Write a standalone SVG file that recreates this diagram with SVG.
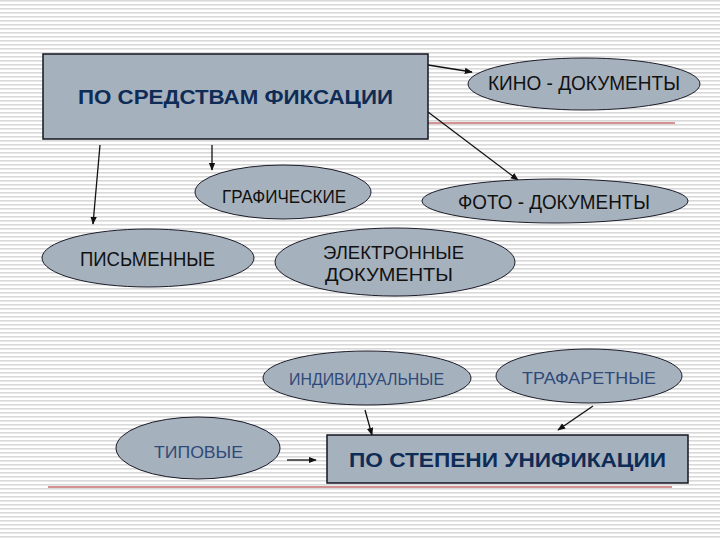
<svg xmlns="http://www.w3.org/2000/svg" width="720" height="540" viewBox="0 0 720 540">
<style>
.node{fill:#a6b1be;stroke:#1c1c28;stroke-width:1}
.box{fill:#a6b1be;stroke:#15151f;stroke-width:1.5}
.title{font-family:"Liberation Sans",Arial,sans-serif;font-weight:bold;font-size:19.5px;fill:#0f2c57}
.hand{font-family:"Liberation Sans",Arial,sans-serif;font-size:18px;fill:#111}
.plain{font-family:"Liberation Sans",Arial,sans-serif;font-size:16.5px;fill:#2e4a78}
.conn{stroke:#111;stroke-width:1.3;fill:none;marker-end:url(#arr)}
.rule{stroke:#a82828;stroke-width:1.2}
</style>
<defs>
<pattern id="stripes" width="8" height="4" patternUnits="userSpaceOnUse">
<rect width="8" height="4" fill="#ffffff"/>
<rect width="8" height="1.6" fill="#d9d9d9"/>
</pattern>
<marker id="arr" viewBox="0 0 10 10" refX="9" refY="5" markerWidth="8" markerHeight="8" markerUnits="userSpaceOnUse" orient="auto">
<path d="M0,1 L10,5 L0,9 Z" fill="#111"/>
</marker>
</defs>
<rect width="720" height="540" fill="url(#stripes)"/>
<line class="rule" x1="428" y1="123" x2="675" y2="123"/>
<line class="rule" x1="48" y1="487" x2="672" y2="487"/>
<g id="connectors">
<line class="conn" x1="428" y1="65" x2="472" y2="72"/>
<line class="conn" x1="428" y1="112" x2="518" y2="180"/>
<line class="conn" x1="100" y1="145" x2="93" y2="224"/>
<line class="conn" x1="212" y1="145" x2="212" y2="170"/>
<line class="conn" x1="365" y1="410" x2="372" y2="435"/>
<line class="conn" x1="593" y1="406" x2="558" y2="430"/>
<line class="conn" x1="287" y1="460" x2="316" y2="460"/>
</g>
<g id="po-sredstvam">
<rect class="box" x="43" y="54" width="385" height="85"/>
<text class="title" x="78" y="104" textLength="315" lengthAdjust="spacingAndGlyphs">ПО СРЕДСТВАМ ФИКСАЦИИ</text>
</g>
<g id="kino">
<ellipse class="node" cx="584" cy="84" rx="116" ry="26"/>
<text class="hand" x="488" y="90" textLength="192" lengthAdjust="spacingAndGlyphs" style="font-size:21px">КИНО - ДОКУМЕНТЫ</text>
</g>
<g id="graficheskie">
<ellipse class="node" cx="283" cy="192" rx="88" ry="27"/>
<text class="hand" x="222" y="203" textLength="124" lengthAdjust="spacingAndGlyphs">ГРАФИЧЕСКИЕ</text>
</g>
<g id="foto">
<ellipse class="node" cx="555" cy="201" rx="133" ry="22"/>
<text class="hand" x="458" y="209" textLength="192" lengthAdjust="spacingAndGlyphs" style="font-size:21px">ФОТО - ДОКУМЕНТЫ</text>
</g>
<g id="pismennye">
<ellipse class="node" cx="148" cy="258" rx="106" ry="29"/>
<text class="hand" x="80" y="266" textLength="135" lengthAdjust="spacingAndGlyphs" style="font-size:20px">ПИСЬМЕННЫЕ</text>
</g>
<g id="elektronnye">
<ellipse class="node" cx="395" cy="262" rx="120" ry="34"/>
<text class="hand" x="323" y="259" textLength="141" lengthAdjust="spacingAndGlyphs" style="font-size:19px">ЭЛЕКТРОННЫЕ</text>
<text class="hand" x="325" y="281" textLength="128" lengthAdjust="spacingAndGlyphs" style="font-size:19px">ДОКУМЕНТЫ</text>
</g>
<g id="individualnye">
<ellipse class="node" cx="367" cy="378" rx="104" ry="27"/>
<text class="plain" x="289" y="385" textLength="155" lengthAdjust="spacingAndGlyphs">ИНДИВИДУАЛЬНЫЕ</text>
</g>
<g id="trafaretnye">
<ellipse class="node" cx="589" cy="376" rx="93" ry="27"/>
<text class="plain" x="522" y="384" textLength="134" lengthAdjust="spacingAndGlyphs">ТРАФАРЕТНЫЕ</text>
</g>
<g id="tipovye">
<ellipse class="node" cx="198" cy="448" rx="82" ry="31"/>
<text class="plain" x="154" y="458" textLength="89" lengthAdjust="spacingAndGlyphs">ТИПОВЫЕ</text>
</g>
<g id="po-stepeni">
<rect class="box" x="327" y="435" width="361" height="48"/>
<text class="title" x="349" y="467" textLength="317" lengthAdjust="spacingAndGlyphs">ПО СТЕПЕНИ УНИФИКАЦИИ</text>
</g>
</svg>
